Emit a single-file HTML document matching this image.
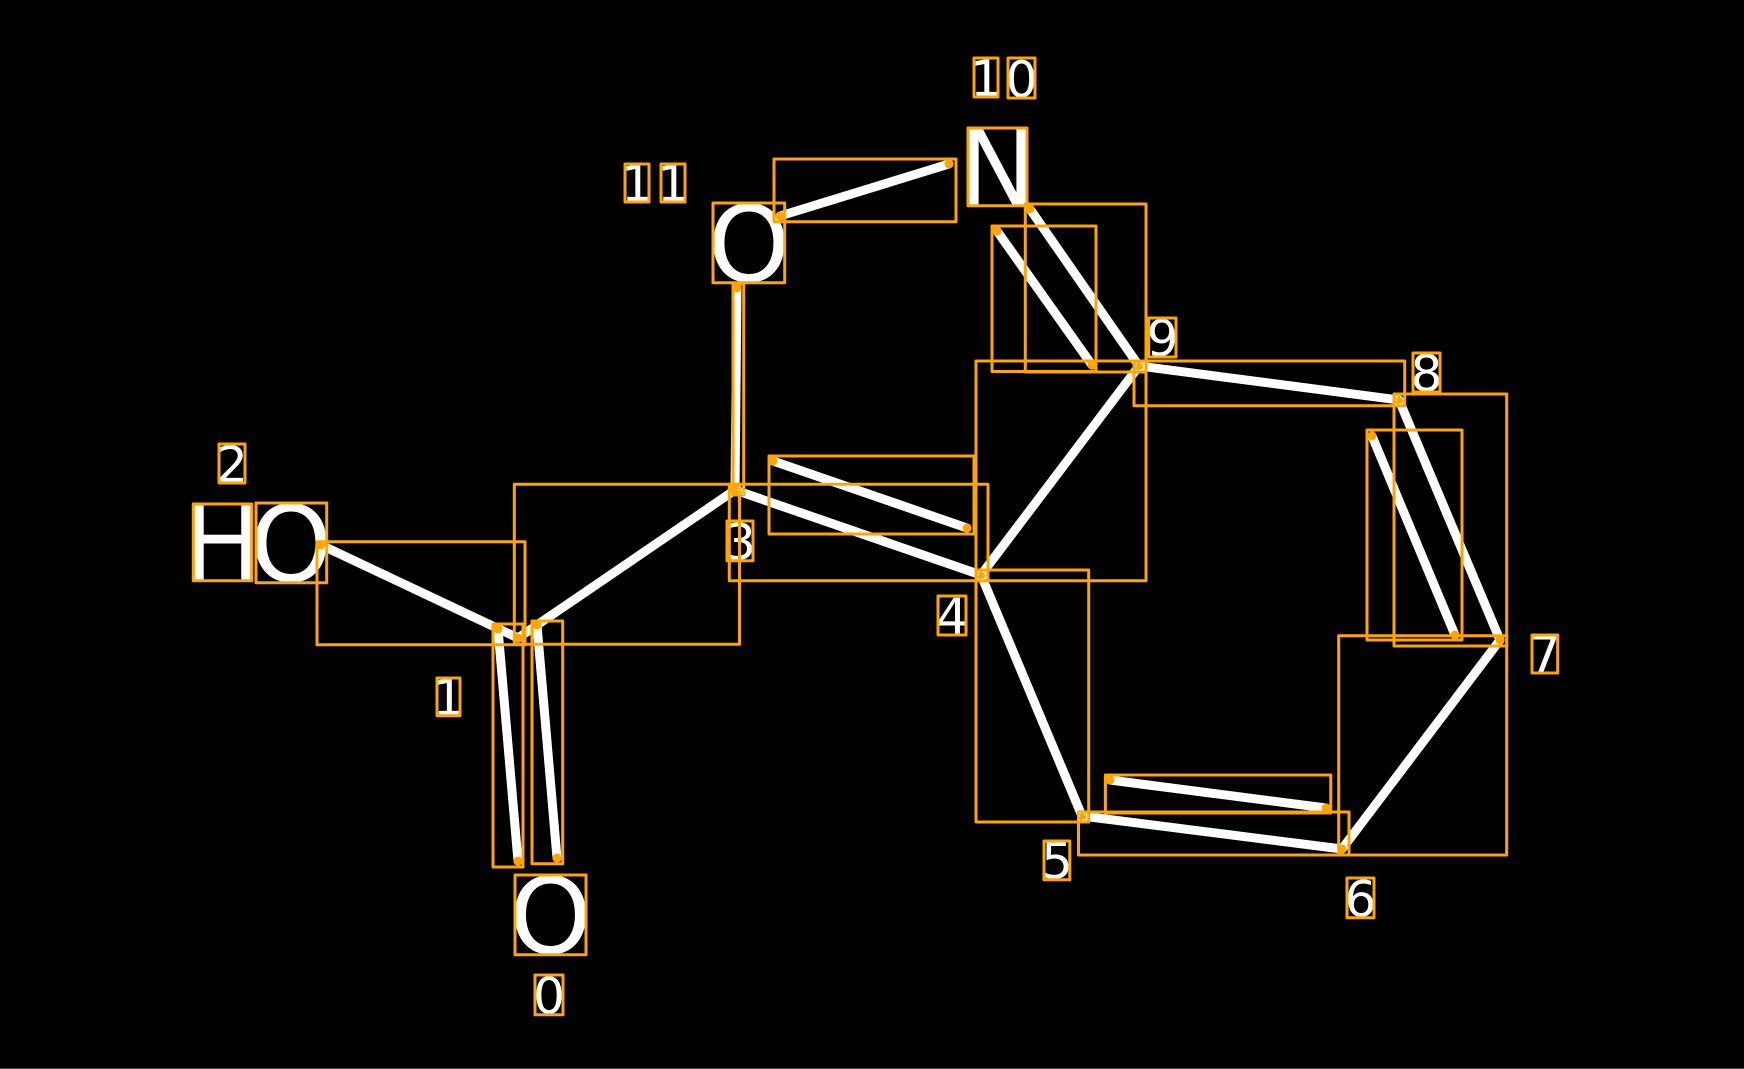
<!DOCTYPE html>
<html><head><meta charset="utf-8">
<style>html,body{margin:0;padding:0;background:#000;width:1744px;height:1069px;overflow:hidden}svg{display:block}
text{font-family:"DejaVu Sans",sans-serif;fill:#fff;text-anchor:middle}
.b{font-size:105px}.d{font-size:50px}</style></head><body>
<svg width="1744" height="1069" viewBox="0 0 1744 1069" xmlns="http://www.w3.org/2000/svg">
<rect width="1744" height="1069" fill="#000"/>
<rect x="0" y="1068" width="1744" height="1" fill="#444"/>
<g stroke="#fff" stroke-width="9" stroke-linecap="round" fill="none">
<line x1="321" y1="545" x2="518" y2="638"/>
<line x1="518" y1="638" x2="735" y2="490"/>
<line x1="498" y1="629" x2="518" y2="861"/>
<line x1="537" y1="625" x2="557" y2="858"/>
<line x1="735" y1="490" x2="737" y2="288"/>
<line x1="780" y1="216" x2="949" y2="164"/>
<line x1="735" y1="490" x2="981" y2="575"/>
<line x1="773" y1="461" x2="967" y2="528"/>
<line x1="981" y1="575" x2="1139" y2="366"/>
<line x1="981" y1="575" x2="1082" y2="816"/>
<line x1="1082" y1="816" x2="1342" y2="849"/>
<line x1="1110" y1="780" x2="1326" y2="808"/>
<line x1="1342" y1="849" x2="1500" y2="640"/>
<line x1="1500" y1="640" x2="1399" y2="400"/>
<line x1="1455" y1="635" x2="1372" y2="436"/>
<line x1="1399" y1="400" x2="1139" y2="366"/>
<line x1="1139" y1="366" x2="1030" y2="209"/>
<line x1="1092" y1="365" x2="997" y2="231"/>
</g>
<text class="b" x="222.5" y="580">H</text>
<text class="b" x="291" y="581">O</text>
<text class="b" x="997.5" y="205">N</text>
<text class="b" x="749" y="281">O</text>
<text class="b" x="550.5" y="953">O</text>
<text class="d" x="232" y="482">2</text>
<text class="d" x="448.5" y="715">1</text>
<text class="d" x="549" y="1013.5">0</text>
<text class="d" x="740" y="559.5">3</text>
<text class="d" x="952" y="634">4</text>
<text class="d" x="1057" y="878.5">5</text>
<text class="d" x="1360.5" y="916.5">6</text>
<text class="d" x="1545" y="672">7</text>
<text class="d" x="1426.5" y="391">8</text>
<text class="d" x="1162.5" y="356">9</text>
<text class="d" x="986" y="96">1</text>
<text class="d" x="1021.5" y="97">0</text>
<text class="d" x="637" y="201">1</text>
<text class="d" x="673" y="201">1</text>
<g fill="none" stroke="#ffa500" stroke-width="3" stroke-linejoin="round">
<rect x="219" y="444" width="26" height="39"/>
<rect x="193.3" y="504" width="58.4" height="76.7"/>
<rect x="256" y="503" width="70.7" height="79.7"/>
<rect x="317" y="541.7" width="208" height="103"/>
<rect x="437" y="678" width="23" height="37.7"/>
<rect x="514.3" y="484.3" width="225.2" height="160"/>
<rect x="493" y="624" width="30" height="243"/>
<rect x="532" y="621" width="30.7" height="242.7"/>
<rect x="515" y="875" width="71" height="79.7"/>
<rect x="535" y="975" width="28" height="39.7"/>
<rect x="974" y="58" width="24" height="39"/>
<rect x="1008" y="58" width="27" height="40"/>
<rect x="968" y="128" width="59" height="77.7"/>
<rect x="625" y="164" width="24" height="38"/>
<rect x="661" y="164" width="24" height="38"/>
<rect x="713" y="203" width="71.7" height="79.7"/>
<rect x="774" y="159" width="182" height="62.7"/>
<rect x="1025.3" y="204" width="120.7" height="168"/>
<rect x="992" y="226" width="104" height="145.5"/>
<rect x="733" y="284" width="10.7" height="211"/>
<rect x="729.3" y="484.3" width="258.7" height="96.4"/>
<rect x="976" y="361" width="170" height="219.7"/>
<rect x="769" y="456" width="205" height="78"/>
<rect x="727" y="521" width="26" height="39.7"/>
<rect x="938" y="596" width="28" height="39"/>
<rect x="976" y="570" width="112.7" height="252"/>
<rect x="1078.5" y="812" width="270.5" height="43"/>
<rect x="1105.4" y="775" width="225.4" height="38"/>
<rect x="1338.7" y="635.7" width="168" height="219.3"/>
<rect x="1044" y="841" width="25.8" height="38.7"/>
<rect x="1347" y="878" width="27" height="39.7"/>
<rect x="1532" y="635" width="25.7" height="38"/>
<rect x="1413" y="353" width="27" height="39"/>
<rect x="1148.7" y="318" width="27.3" height="39"/>
<rect x="1134" y="361" width="270.7" height="44.7"/>
<rect x="1394" y="394" width="112.7" height="252"/>
<rect x="1367" y="430" width="95" height="210"/>
</g>
<g fill="#ffa500">
<circle cx="321" cy="545" r="4.5"/><circle cx="518" cy="638" r="4.5"/>
<circle cx="498" cy="629" r="4.5"/><circle cx="518" cy="861" r="4.5"/>
<circle cx="537" cy="625" r="4.5"/><circle cx="557" cy="858" r="4.5"/>
<circle cx="735" cy="490" r="4.5"/><circle cx="737" cy="288" r="4.5"/>
<circle cx="780" cy="216" r="4.5"/><circle cx="949" cy="164" r="4.5"/>
<circle cx="773" cy="461" r="4.5"/><circle cx="967" cy="528" r="4.5"/>
<circle cx="981" cy="575" r="4.5"/><circle cx="1139" cy="366" r="4.5"/>
<circle cx="1082" cy="816" r="4.5"/><circle cx="1342" cy="849" r="4.5"/>
<circle cx="1110" cy="780" r="4.5"/><circle cx="1326" cy="808" r="4.5"/>
<circle cx="1500" cy="640" r="4.5"/><circle cx="1399" cy="400" r="4.5"/>
<circle cx="1455" cy="635" r="4.5"/><circle cx="1372" cy="436" r="4.5"/>
<circle cx="1030" cy="209" r="4.5"/><circle cx="1092" cy="365" r="4.5"/><circle cx="997" cy="231" r="4.5"/>
</g>
<g fill="none" stroke="#fff" stroke-width="1" stroke-dasharray="2 2">
<rect x="978" y="572" width="7" height="7"/>
<rect x="1136" y="363" width="7" height="7"/>
<rect x="1396" y="397" width="7" height="7"/>
<rect x="1079" y="813" width="7" height="7"/>
<rect x="739" y="487" width="5" height="7"/>
</g>
</svg>
</body></html>
